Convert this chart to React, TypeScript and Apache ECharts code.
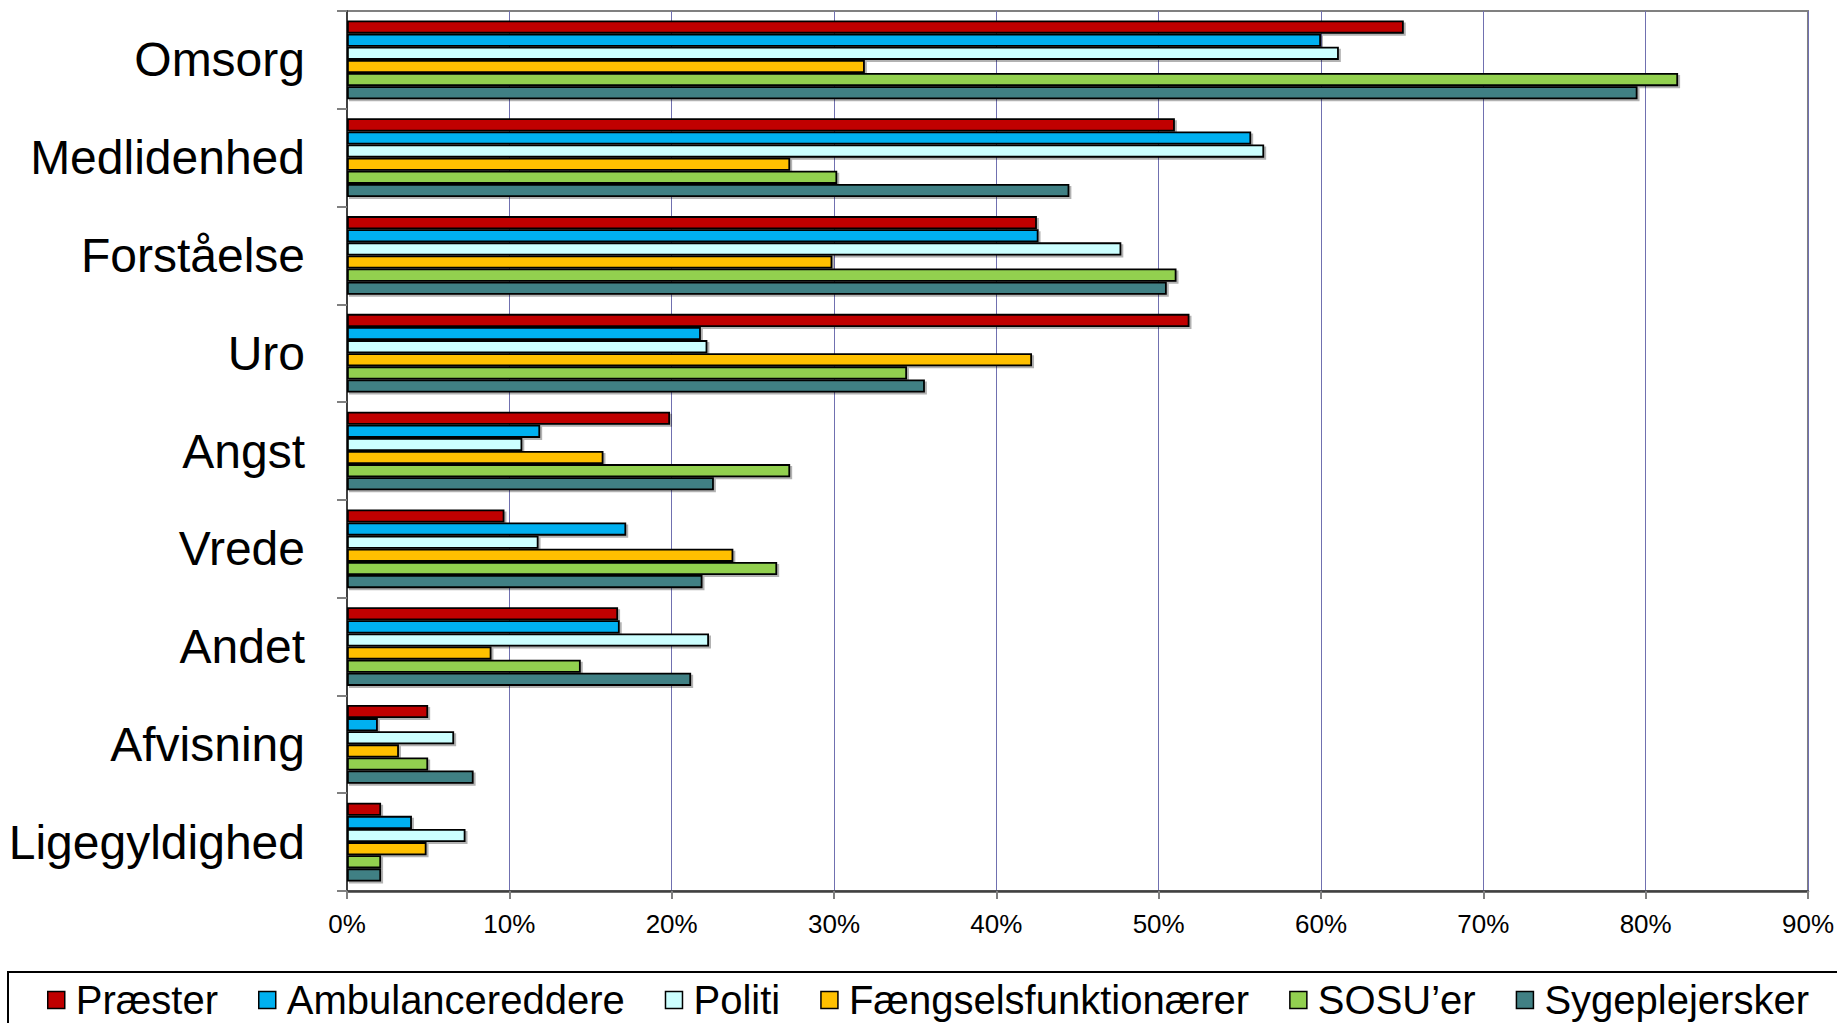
import React, { useEffect, useRef } from "react";
import * as echarts from "echarts";

const categories = ["Omsorg", "Medlidenhed", "Forståelse", "Uro", "Angst", "Vrede", "Andet", "Afvisning", "Ligegyldighed"];
const seriesNames = ["Præster", "Ambulancereddere", "Politi", "Fængselsfunktionærer", "SOSU’er", "Sygeplejersker"];
const praester = [65.1, 51.0, 42.5, 51.9, 19.9, 9.7, 16.7, 5.0, 2.1];
const ambulance = [60.0, 55.7, 42.6, 21.8, 11.9, 17.2, 16.8, 1.9, 4.0];
const politi = [61.1, 56.5, 47.7, 22.2, 10.8, 11.8, 22.3, 6.6, 7.3];
const faengsel = [31.9, 27.3, 29.9, 42.2, 15.8, 23.8, 8.9, 3.2, 4.9];
const sosu = [82.0, 30.2, 51.1, 34.5, 27.3, 26.5, 14.4, 5.0, 2.1];
const sygepl = [79.5, 44.5, 50.5, 35.6, 22.6, 21.9, 21.2, 7.8, 2.1];
const xTicks = { min: 0, max: 90, interval: 10 };
const colors = ["#C00000", "#00B0F0", "#CCFFFF", "#FFC000", "#92D050", "#418084"];

const FONT = "'Liberation Sans', Arial, sans-serif";

export default function App() {
  const ref = useRef<HTMLDivElement>(null);
  useEffect(() => {
    if (!ref.current) return;
    const chart = echarts.init(ref.current, undefined, { renderer: "svg" });
    const data = [praester, ambulance, politi, faengsel, sosu, sygepl];
    chart.setOption({
      animation: false,
      backgroundColor: "#fff",
      textStyle: { fontFamily: FONT },
      grid: {
        left: 347,
        right: 29,
        top: 11,
        bottom: 132,
        show: true,
        borderColor: "#808080",
        borderWidth: 2,
        backgroundColor: "transparent",
      },
      legend: {
        left: 42,
        top: 975,
        itemWidth: 17,
        itemHeight: 17,
        itemGap: 40,
        icon: "rect",
        itemStyle: { borderColor: "#000", borderWidth: 1.5 },
        textStyle: { fontFamily: FONT, fontSize: 40, color: "#000", lineHeight: 40, padding: [0, 0, 0, 6] },
        data: seriesNames,
      },
      xAxis: {
        type: "value",
        min: xTicks.min,
        max: xTicks.max,
        interval: xTicks.interval,
        axisLine: { show: true, lineStyle: { color: "#404040", width: 2.5 } },
        axisTick: { show: true, length: 8, lineStyle: { color: "#808080", width: 2 } },
        axisLabel: { formatter: "{value}%", fontSize: 26, color: "#000", margin: 20, fontFamily: FONT },
        splitLine: { show: true, lineStyle: { color: "#7070B0", width: 1 } },
      },
      yAxis: {
        type: "category",
        data: categories,
        inverse: true,
        axisLine: { show: true, lineStyle: { color: "#404040", width: 2 } },
        axisTick: { show: true, length: 10, lineStyle: { color: "#808080", width: 2 } },
        axisLabel: { fontSize: 48, color: "#000", margin: 42, fontFamily: FONT },
      },
      graphic: [
        {
          type: "rect",
          shape: { x: 8, y: 972, width: 1900, height: 120 },
          style: { fill: "none", stroke: "#000", lineWidth: 2 },
          silent: true,
        },
      ],
      series: seriesNames.map((name, i) => ({
        name,
        type: "bar",
        data: data[i],
        barGap: "0%",
        barCategoryGap: "19.5%",
        itemStyle: {
          color: colors[i],
          borderColor: "#000",
          borderWidth: 1.8,
          shadowColor: "rgba(0,0,0,0.3)",
          shadowOffsetX: 2,
          shadowOffsetY: 2,
          shadowBlur: 0,
        },
      })),
    });
    return () => chart.dispose();
  }, []);
  return <div ref={ref} style={{ position: "fixed", left: 0, top: 0, width: 1837, height: 1023 }} />;
}
